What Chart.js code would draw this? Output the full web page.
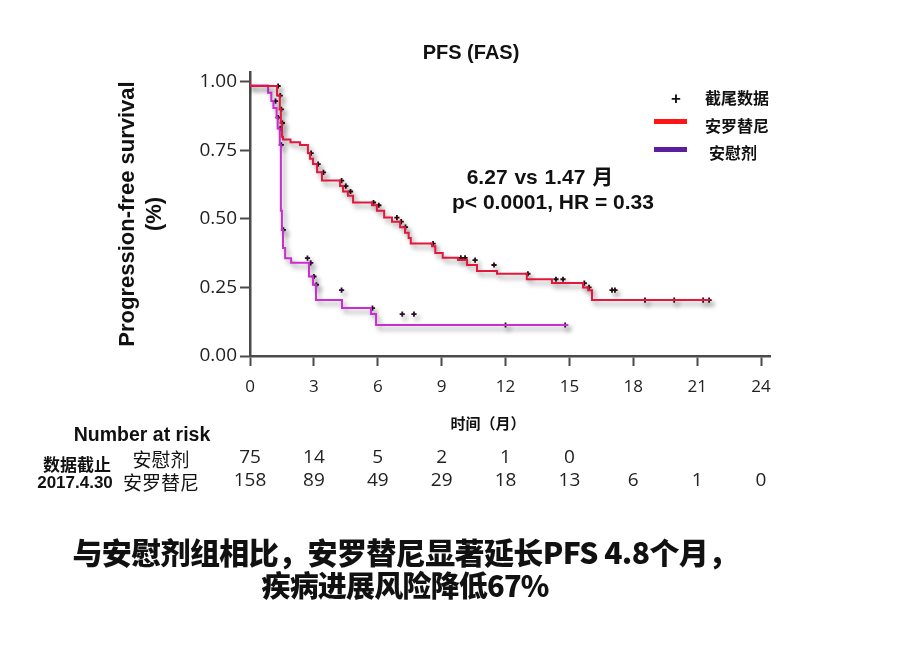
<!DOCTYPE html>
<html><head><meta charset="utf-8">
<script src="https://cdn.jsdelivr.net/npm/chart.js@4.4.0/dist/chart.umd.min.js"></script>
<style>
html,body{margin:0;padding:0;background:#fff;}
#wrap{position:relative;width:900px;height:662px;overflow:hidden;font-family:"Liberation Sans","Noto Sans CJK SC",sans-serif;color:#111;}
#cv{position:absolute;left:0;top:0;}
.t{position:absolute;white-space:nowrap;transform:translate(-50%,-50%);line-height:1;}
.b{font-weight:bold;}
.sw{position:absolute;height:5px;}
</style></head><body>
<div id="wrap">
<canvas id="cv" width="900" height="662"></canvas>
<div class="t b" style="left:471px;top:52px;font-size:20px;">PFS (FAS)</div>
<div class="t b" style="left:676px;top:98px;font-size:17px;">+</div>
<div class="t b" style="left:737px;top:97px;font-size:16px;font-family:'Noto Sans CJK SC';">截尾数据</div>
<div class="sw" style="left:654px;top:119px;width:33px;background:#ff1515;"></div>
<div class="t b" style="left:737px;top:125px;font-size:16px;font-family:'Noto Sans CJK SC';">安罗替尼</div>
<div class="sw" style="left:654px;top:147px;width:33px;background:#5a1e9e;"></div>
<div class="t b" style="left:733px;top:152px;font-size:16px;font-family:'Noto Sans CJK SC';">安慰剂</div>
<div class="t b" style="left:540px;top:176px;font-size:21px;word-spacing:1px;">6.27 vs 1.47 <span style="font-family:'Noto Sans CJK SC'">月</span></div>
<div class="t b" style="left:553px;top:201px;font-size:21px;">p&lt; 0.0001, HR = 0.33</div>
<div class="t b" style="left:488px;top:422px;font-size:15px;font-family:'Noto Sans CJK SC';">时间（月）</div>
<div class="t b" style="left:142px;top:435px;font-size:19.5px;">Number at risk</div>
<div class="t b" style="left:77px;top:463px;font-size:17px;font-family:'Noto Sans CJK SC';">数据截止</div>
<div class="t b" style="left:75px;top:482px;font-size:17px;">2017.4.30</div>
<div class="t" style="left:161px;top:458px;font-size:19px;font-family:'Noto Sans CJK SC';">安慰剂</div>
<div class="t" style="left:161px;top:481px;font-size:19px;font-family:'Noto Sans CJK SC';">安罗替尼</div>
<div class="t" style="left:405px;top:551px;font-size:30px;font-weight:900;font-family:'Noto Sans CJK SC';letter-spacing:-0.6px;">与安慰剂组相比，安罗替尼显著延长PFS 4.8个月，</div>
<div class="t" style="left:405px;top:584px;font-size:29px;font-weight:900;font-family:'Noto Sans CJK SC';letter-spacing:-0.8px;">疾病进展风险降低67%</div>
</div>
<script>
// ---- data ----
const xTicks = [0, 3, 6, 9, 12, 15, 18, 21, 24];
const yTicks = [0, 0.25, 0.5, 0.75, 1.0];

const anlotinibTime = [0, 1.27, 1.40, 1.45, 1.50, 1.55, 1.90, 2.35, 2.72, 2.82, 2.96, 3.15, 3.38, 4.23, 4.37, 4.60, 4.84, 5.73, 5.96, 6.30, 6.67, 7.05, 7.28, 7.45, 7.55, 8.55, 8.70, 9.05, 9.77, 10.19, 10.66, 11.60, 13.00, 14.18, 15.64, 15.88, 16.06, 18.46, 21.60];
const anlotinibSurv = [1.00, 0.985, 0.95, 0.90, 0.85, 0.80, 0.79, 0.78, 0.77, 0.74, 0.72, 0.70, 0.67, 0.64, 0.62, 0.60, 0.585, 0.56, 0.55, 0.53, 0.505, 0.49, 0.47, 0.45, 0.43, 0.41, 0.40, 0.376, 0.358, 0.35, 0.332, 0.31, 0.30, 0.28, 0.266, 0.25, 0.24, 0.204, 0.204];
const anlotinibCensorTime = [1.32, 1.42, 1.47, 1.52, 2.87, 3.20, 3.45, 4.30, 4.50, 4.72, 5.80, 6.05, 6.90, 7.10, 7.30, 8.60, 9.90, 10.10, 10.57, 11.46, 13.05, 14.37, 14.70, 15.70, 15.92, 17.00, 17.14, 18.55, 19.92, 21.28, 21.56];
const anlotinibCensorSurv = [0.985, 0.95, 0.90, 0.85, 0.74, 0.70, 0.67, 0.64, 0.62, 0.60, 0.56, 0.55, 0.505, 0.49, 0.47, 0.41, 0.358, 0.358, 0.35, 0.332, 0.30, 0.28, 0.28, 0.266, 0.25, 0.24, 0.24, 0.204, 0.204, 0.204, 0.204];

const placeboTime = [0, 0.85, 1.00, 1.10, 1.25, 1.30, 1.40, 1.45, 1.50, 1.55, 1.65, 1.93, 2.77, 2.96, 3.10, 4.32, 5.68, 5.92, 8.41, 14.95];
const placeboSurv = [1.00, 0.987, 0.96, 0.93, 0.905, 0.87, 0.83, 0.77, 0.53, 0.46, 0.394, 0.357, 0.34, 0.29, 0.26, 0.204, 0.175, 0.153, 0.113, 0.113];
const placeboCensorTime = [1.20, 1.32, 1.42, 1.47, 1.57, 2.70, 2.85, 3.00, 3.12, 4.30, 5.75, 7.15, 7.70, 12.00, 14.80];
const placeboCensorSurv = [0.93, 0.87, 0.83, 0.77, 0.46, 0.357, 0.34, 0.29, 0.26, 0.24, 0.175, 0.153, 0.153, 0.113, 0.113];

const riskTimes = [0, 3, 6, 9, 12, 15, 18, 21, 24];
const riskPlacebo = [75, 14, 5, 2, 1, 0];
const riskAnlotinib = [158, 89, 49, 29, 18, 13, 6, 1, 0];

// ---- build ----
const pts = (ts, ss) => ts.map((t, i) => ({x: t, y: ss[i]}));

const shadowPlugin = {
  id: 'shadow',
  beforeDatasetDraw(chart) {
    const c = chart.ctx; c.save();
    c.shadowColor = 'rgba(0,0,0,0.4)'; c.shadowBlur = 5; c.shadowOffsetX = 3; c.shadowOffsetY = 4;
  },
  afterDatasetDraw(chart) { chart.ctx.restore(); }
};

const riskPlugin = {
  id: 'risk',
  afterDraw(chart) {
    const c = chart.ctx, xs = chart.scales.x;
    c.save();
    c.font = '19px "Open Sans"';
    c.fillStyle = '#222';
    c.textAlign = 'center';
    c.textBaseline = 'middle';
    riskPlacebo.forEach((n, i) => c.fillText(String(n), xs.getPixelForValue(riskTimes[i]), 458));
    riskAnlotinib.forEach((n, i) => c.fillText(String(n), xs.getPixelForValue(riskTimes[i]), 481));
    c.restore();
  }
};

const axisColor = '#4a4a4a';
new Chart(document.getElementById('cv'), {
  type: 'line',
  data: {
    datasets: [
      {data: pts(anlotinibTime, anlotinibSurv), borderColor: '#e3163c', borderWidth: 2, stepped: 'after', pointRadius: 0, fill: false},
      {data: pts(placeboTime, placeboSurv), borderColor: '#c92ed0', borderWidth: 2, stepped: 'after', pointRadius: 0, fill: false},
      {data: pts(anlotinibCensorTime, anlotinibCensorSurv), showLine: false, pointStyle: 'cross', pointRadius: 2.6, borderColor: '#2a0a10', borderWidth: 1.8},
      {data: pts(placeboCensorTime, placeboCensorSurv), showLine: false, pointStyle: 'cross', pointRadius: 2.6, borderColor: '#2a0a2e', borderWidth: 1.8}
    ]
  },
  options: {
    responsive: false,
    animation: false,
    events: [],
    layout: {padding: {left: 0, top: 72, right: 130, bottom: 226}},
    plugins: {legend: {display: false}, tooltip: {enabled: false}, title: {display: false}},
    scales: {
      x: {
        type: 'linear', min: 0, max: 24.42,
        afterBuildTicks: s => { s.ticks = xTicks.map(v => ({value: v})); },
        afterFit: s => { s.height = 80; },
        ticks: {font: {size: 17, family: 'Open Sans'}, color: '#222', padding: 11, maxRotation: 0},
        grid: {drawOnChartArea: false, drawTicks: true, tickLength: 10, tickColor: axisColor, tickWidth: 2},
        border: {display: true, color: axisColor, width: 2.5}
      },
      y: {
        type: 'linear', min: 0, max: 1.036,
        afterBuildTicks: s => { s.ticks = yTicks.map(v => ({value: v})); },
        afterFit: s => { s.width = 250; },
        ticks: {font: {size: 19, family: 'Open Sans'}, color: '#222', padding: 3, callback: v => Number(v).toFixed(2)},
        grid: {drawOnChartArea: false, drawTicks: true, tickLength: 10, tickColor: axisColor, tickWidth: 2},
        border: {display: true, color: axisColor, width: 2.5},
        title: {display: true, text: ['Progression-free survival', '(%)'], color: '#111',
                font: {size: 22, weight: 'bold', family: 'Liberation Sans', lineHeight: 1.25}, padding: {top: 114, bottom: 0}}
      }
    }
  },
  plugins: [shadowPlugin, riskPlugin]
});
</script>
</body></html>
